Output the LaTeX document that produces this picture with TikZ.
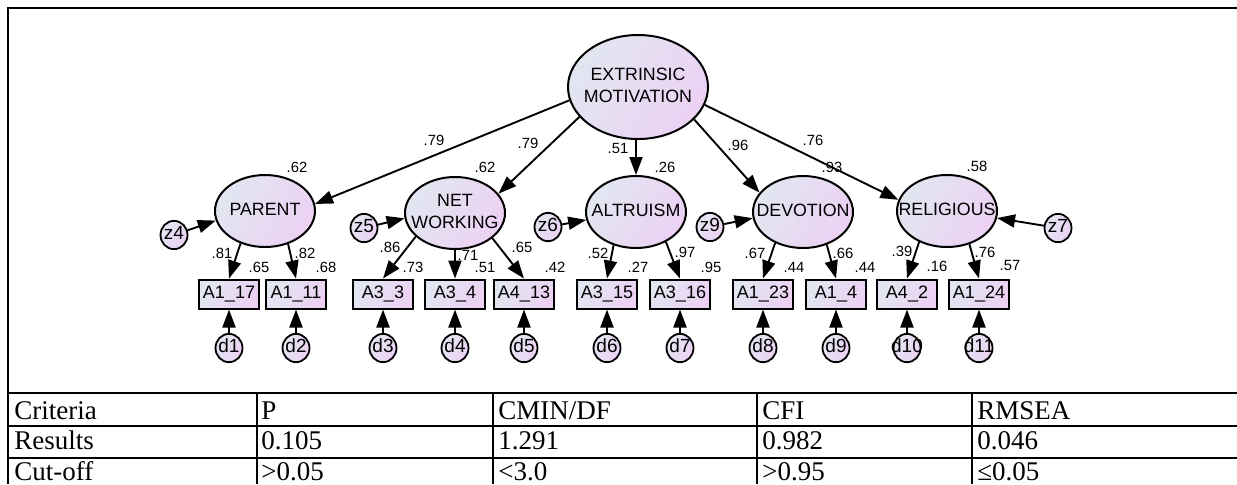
\documentclass[tikz,border=0pt]{standalone}
\usepackage{fontspec}
\setmainfont{Liberation Serif}
\newfontfamily\arialfont{Liberation Sans}
\usetikzlibrary{shapes.geometric,arrows.meta}
\definecolor{shadeL}{RGB}{226,230,241}
\definecolor{shadeR}{RGB}{236,209,243}
% text of a node that must not widen its shape
\newcommand\lattext[1]{\makebox[0pt]{\begin{tabular}{@{}c@{}}#1\end{tabular}}}
\begin{document}
\begin{tikzpicture}[x=0.5pt,y=-0.5pt,
  every node/.style={font=\arialfont\fontsize{8.9}{10.8}\selectfont},
  filled/.style={draw, line width=1pt, left color=shadeL, right color=shadeR, shading angle=60},
  latent/.style={filled, ellipse, minimum width=50pt, minimum height=36pt, inner sep=0pt},
  observed/.style={filled, rectangle, minimum width=30pt, minimum height=14.5pt, inner sep=0pt,
    font=\arialfont\fontsize{9}{10}\selectfont},
  errz/.style={filled, ellipse, line width=0.9pt, minimum width=13.5pt, minimum height=12.5pt, inner sep=0pt,
    font=\arialfont\fontsize{9.5}{10}\selectfont},
  errd/.style={errz, minimum height=10.5pt},
  coef/.style={font=\arialfont\fontsize{7.4}{8}\selectfont, inner sep=0pt},
  regarrow/.style={-{Triangle[length=9pt,width=6.5pt]}, line width=0.95pt},
  tabcell/.style={font=\fontsize{13.5}{15}\selectfont, anchor=base west, inner sep=0pt},
  tablerule/.style={line width=1.4pt}
]
\useasboundingbox (0,0) rectangle (1237,484);

% outer frame and table rules
\draw[tablerule] (1237,8) -- (8,8) -- (8,484);
\foreach \ry in {393,426,458} \draw[tablerule] (8,\ry) -- (1237,\ry);
\foreach \cx in {257,493,757,972} \draw[tablerule] (\cx,393) -- (\cx,484);

% latent factors
\node[latent, minimum width=70pt, minimum height=52pt] (em) at (638,87) {\lattext{EXTRINSIC\\MOTIVATION}};
\node[latent] (parent) at (265,211) {\lattext{PARENT}};
\node[latent] (net) at (455,213) {\lattext{NET\\WORKING}};
\node[latent] (alt) at (636,212) {\lattext{ALTRUISM}};
\node[latent] (dev) at (803,212) {\lattext{DEVOTION}};
\node[latent] (rel) at (947,211) {\lattext{RELIGIOUS}};

% disturbances
\node[errz] (z4) at (174,235) {\lattext{z4}};
\node[errz] (z5) at (364,228) {\lattext{z5}};
\node[errz] (z6) at (548,227) {\lattext{z6}};
\node[errz] (z9) at (710,227) {\lattext{z9}};
\node[errz] (z7) at (1058,228) {\lattext{z7}};

% indicators and their errors
\foreach \nm/\xx/\lab/\er in {a117/229/A1\_17/d1, a111/296/A1\_11/d2, a33/383/A3\_3/d3,
    a34/455/A3\_4/d4, a413/524/A4\_13/d5, a315/607/A3\_15/d6, a316/680/A3\_16/d7,
    a123/763/A1\_23/d8, a14/836/A1\_4/d9, a42/907/A4\_2/d10, a124/979/A1\_24/d11}{
  \node[observed] (\nm) at (\xx,294) {\lab};
  \node[errd] (\er) at (\xx,348) {\lattext{\er}};
  \draw[regarrow] (\er) -- (\nm);
}

% second-order paths
\draw[regarrow] (em.191) -- (parent.8);
\draw[regarrow] (em.207) -- (net.24);
\draw[regarrow] (alt.north |- em.south) -- (alt.north);
\draw[regarrow] (em.330) -- (dev.156);
\draw[regarrow] (em.345) -- (rel.167);

% disturbance paths
\draw[regarrow] (z4) -- (parent.191);
\draw[regarrow] (z5) -- (net.186);
\draw[regarrow] (z6) -- (alt.189);
\draw[regarrow] (z9) -- (dev.187);
\draw[regarrow] (z7) -- (rel.352);

% loadings
\draw[regarrow] (parent.233) -- (a117.north);
\draw[regarrow] (parent.305) -- (a111.north);
\draw[regarrow] (net.211) -- (a33.north);
\draw[regarrow] (net.270) -- (a34.north);
\draw[regarrow] (net.326) -- (a413.north);
\draw[regarrow] (alt.236) -- (a315.north);
\draw[regarrow] (alt.315) -- (a316.north);
\draw[regarrow] (dev.228) -- (a123.north);
\draw[regarrow] (dev.306) -- (a14.north);
\draw[regarrow] (rel.228) -- (a42.north);
\draw[regarrow] (rel.304) -- (a124.north);

% estimates
\node[coef] (k1) at (434,140) {.79};
\node[coef] (k2) at (528,143) {.79};
\node[coef] (k3) at (618,148) {.51};
\node[coef] (k4) at (738,145) {.96};
\node[coef] (k5) at (813,140) {.76};
\node[coef] (r1) at (297,167) {.62};
\node[coef] (r2) at (485,167) {.62};
\node[coef] (r3) at (665,167) {.26};
\node[coef] (r4) at (832,167) {.93};
\node[coef] (r5) at (977,166) {.58};
\foreach \nm/\xx/\yy/\val in {m1/222/253/.81, m2/259/267/.65, m3/305/253/.82, m4/326/267/.68,
    m5/390/247/.86, m6/413/267/.73, m7/468/255/.71, m8/485/267/.51, m9/522/247/.65,
    m10/555/267/.42, m11/598/253/.52, m12/638/267/.27, m13/685/252/.97, m14/711/267/.95,
    m15/755/253/.67, m16/794/267/.44, m17/843/253/.66, m18/865/267/.44, m19/902/251/.39,
    m20/937/266/.16, m21/985/252/.76, m22/1010/265/.57}{
  \node[coef] (\nm) at (\xx,\yy) {\val};
}

% fit table
\node[tabcell] (t11) at (14,419) {Criteria};
\node[tabcell] (t12) at (261,419) {P};
\node[tabcell] (t13) at (498,419) {CMIN/DF};
\node[tabcell] (t14) at (762,419) {CFI};
\node[tabcell] (t15) at (977,419) {RMSEA};
\node[tabcell] (t21) at (14,449) {Results};
\node[tabcell] (t22) at (261,449) {0.105};
\node[tabcell] (t23) at (498,449) {1.291};
\node[tabcell] (t24) at (762,449) {0.982};
\node[tabcell] (t25) at (977,449) {0.046};
\node[tabcell] (t31) at (14,480) {Cut-off};
\node[tabcell] (t32) at (261,480) {>0.05};
\node[tabcell] (t33) at (498,480) {<3.0};
\node[tabcell] (t34) at (762,480) {>0.95};
\node[tabcell] (t35) at (977,480) {≤0.05};
\end{tikzpicture}
\end{document}
